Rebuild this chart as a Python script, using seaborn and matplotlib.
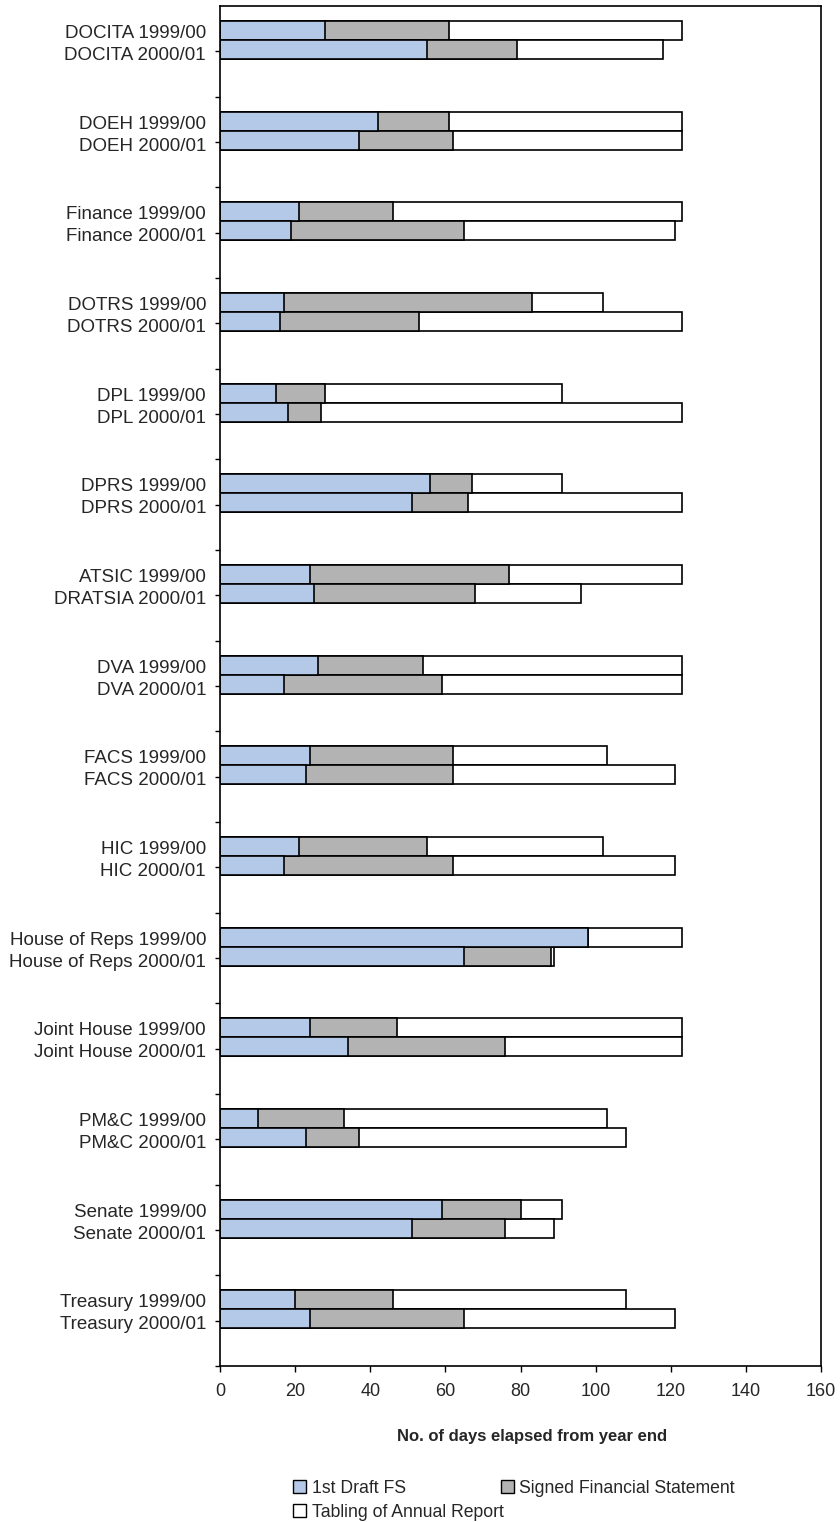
import numpy as np
import pandas as pd
import seaborn as sns
import matplotlib.pyplot as plt
from matplotlib.patches import Patch

#%% Data (days elapsed from year end)
row_labels = ['DOCITA 1999/00', 'DOCITA 2000/01',
              'DOEH 1999/00', 'DOEH 2000/01',
              'Finance 1999/00', 'Finance 2000/01',
              'DOTRS 1999/00', 'DOTRS 2000/01',
              'DPL 1999/00', 'DPL 2000/01',
              'DPRS 1999/00', 'DPRS 2000/01',
              'ATSIC 1999/00', 'DRATSIA 2000/01',
              'DVA 1999/00', 'DVA 2000/01',
              'FACS 1999/00', 'FACS 2000/01',
              'HIC 1999/00', 'HIC 2000/01',
              'House of Reps 1999/00', 'House of Reps 2000/01',
              'Joint House 1999/00', 'Joint House 2000/01',
              'PM&C 1999/00', 'PM&C 2000/01',
              'Senate 1999/00', 'Senate 2000/01',
              'Treasury 1999/00', 'Treasury 2000/01']

draft_fs = [28, 55, 42, 37, 21, 19, 17, 16, 15, 18, 56, 51, 24, 25, 26,
            17, 24, 23, 21, 17, 98, 65, 24, 34, 10, 23, 59, 51, 20, 24]
signed_fs = [61, 79, 61, 62, 46, 65, 83, 53, 28, 27, 67, 66, 77, 68, 54,
             59, 62, 62, 55, 62, 98, 88, 47, 76, 33, 37, 80, 76, 46, 65]
tabling = [123, 118, 123, 123, 123, 121, 102, 123, 91, 123, 91, 123, 123, 96, 123,
           123, 103, 121, 102, 121, 123, 89, 123, 123, 103, 108, 91, 89, 108, 121]

x_ticks = [0, 20, 40, 60, 80, 100, 120, 140, 160]

#%% Layout helpers
n_groups = len(row_labels) // 2
bar_pos = [j // 2 + (0.27 if j % 2 == 0 else 0.48) for j in range(len(row_labels))]
label_pos = [j // 2 + (0.28 if j % 2 == 0 else 0.525) for j in range(len(row_labels))]

df = pd.DataFrame({'row': row_labels, 'pos': bar_pos,
                   'draft': draft_fs, 'signed': signed_fs, 'tabling': tabling})

blue = '#b4c8e8'
grey = '#b3b3b3'

sns.set_style('ticks')
plt.rcParams['font.family'] = ['Liberation Sans', 'DejaVu Sans']

fig = plt.figure(figsize=(8.4, 15.22), dpi=100)
ax = fig.add_axes([220 / 840, 1 - 1366 / 1522, 601 / 840, 1360 / 1522])

# overlaid bars: longest first so the shorter stages sit on top
for col, colr in [('tabling', 'white'), ('signed', grey), ('draft', blue)]:
    sns.barplot(data=df, x=col, y='pos', orient='h', native_scale=True,
                width=1.0, color=colr, saturation=1, edgecolor='black',
                linewidth=1.2, errorbar=None, ax=ax)

ax.set_xlim(0, 160)
ax.set_ylim(n_groups, 0)
ax.set_xticks(x_ticks)
ax.set_xticklabels([str(t) for t in x_ticks], fontsize=13)
ax.set_yticks(label_pos)
ax.set_yticklabels(row_labels, fontsize=13.5)
ax.set_yticks(np.arange(0.5, n_groups + 0.01, 0.5), minor=True)
ax.tick_params(axis='y', which='major', length=0, pad=10)
ax.tick_params(axis='y', which='minor', length=3.5, width=1, color='black')
ax.tick_params(axis='x', length=4.5, width=1, color='black', pad=8)
ax.set_ylabel('')
ax.set_xlabel('No. of days elapsed from year end', fontweight='bold', fontsize=12)
ax.xaxis.set_label_coords(0.52, -0.046)

for s in ax.spines.values():
    s.set_visible(True)
    s.set_color('black')
    s.set_linewidth(1.2)

#%% Legend (Excel style: two on the first row, one below)
h_draft = Patch(facecolor=blue, edgecolor='black', linewidth=1)
h_signed = Patch(facecolor=grey, edgecolor='black', linewidth=1)
h_tab = Patch(facecolor='white', edgecolor='black', linewidth=1)
leg_kw = dict(loc='upper left', frameon=False, prop={'size': 12.7}, handlelength=0.75,
              handleheight=0.75, handletextpad=0.3, borderpad=0, borderaxespad=0)
fig.legend([h_draft, h_signed], ['1st Draft FS', 'Signed Financial Statement'],
           ncol=2, columnspacing=5.4, bbox_to_anchor=(293 / 840, 1 - 1480 / 1522), **leg_kw)
fig.legend([h_tab], ['Tabling of Annual Report'],
           bbox_to_anchor=(293 / 840, 1 - 1504 / 1522), **leg_kw)

fig.savefig('out.png', dpi=100)
